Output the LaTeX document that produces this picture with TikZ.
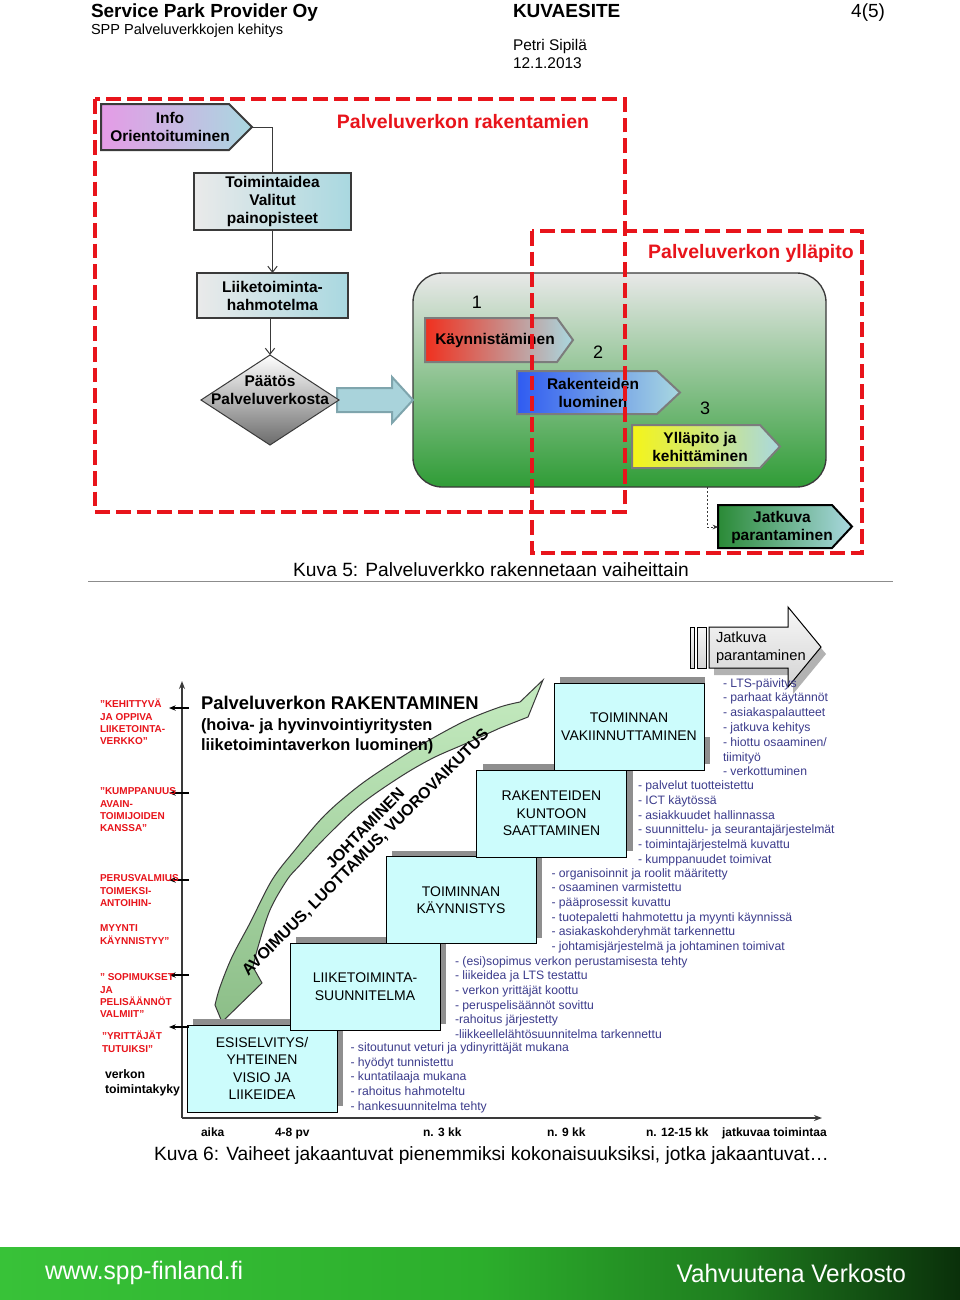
\documentclass[tikz,border=0pt]{standalone}
\usepackage{fontspec}
\usepackage{graphicx}
\setmainfont{Liberation Sans}
\usetikzlibrary{arrows.meta,shapes.geometric,shadows}
\definecolor{redd}{HTML}{E8141B}
\definecolor{lightcy}{HTML}{A9D8E0}
\definecolor{boxcy}{HTML}{CCFCFC}
\definecolor{shadowg}{HTML}{8F8F8F}
\definecolor{listblue}{HTML}{3C3C8C}
\definecolor{bordg}{HTML}{3A3A3A}
\definecolor{arrg}{HTML}{7C7C7C}
\definecolor{infoL}{HTML}{E59BE6}
\definecolor{boxL}{HTML}{EAEAEA}
\definecolor{stTop}{HTML}{E8E8E8}
\definecolor{stMid}{HTML}{BACDB5}
\definecolor{stBot}{HTML}{2F9C36}
\definecolor{kRed}{HTML}{F0301E}
\definecolor{kMid}{HTML}{E2B4B8}
\definecolor{rBlue}{HTML}{2F5BF2}
\definecolor{rMid}{HTML}{8FB0E8}
\definecolor{yYel}{HTML}{F5F518}
\definecolor{yMid}{HTML}{B8D0A0}
\definecolor{jGreen}{HTML}{2A8A36}
\definecolor{jMid}{HTML}{6AAE70}
\definecolor{blueArr}{HTML}{A9D3DB}
\definecolor{blueArrB}{HTML}{7FA5AD}
\definecolor{bandTop}{HTML}{C5EBC0}
\definecolor{bandBot}{HTML}{8CBE88}
\definecolor{fA}{HTML}{38C238}
\definecolor{fB}{HTML}{2CAE2C}
\definecolor{fC}{HTML}{1F7E1F}
\definecolor{fD}{HTML}{0A300A}
\pgfdeclarehorizontalshading{footershade}{100bp}{color(0bp)=(fA); color(25bp)=(fA); color(50bp)=(fB); color(63bp)=(fC); color(75bp)=(fD); color(100bp)=(fD)}
\newcommand\pxu{0.75pt}
\newcommand\txtstack[6]{\foreach \t [count=\i from 0] in {#6} {\node[#1] (#2\i) at (#3,#4+\i*#5) {\t};}}
\begin{document}
\begin{tikzpicture}[x=0.75pt,y=-0.75pt,
 every node/.style={inner sep=0pt, outer sep=0pt},
 hb/.style={font=\bfseries\fontsize{11.6pt}{13.5pt}\selectfont, align=center},
 ubox/.style={draw=bordg, line width=1.5pt, left color=boxL, right color=lightcy, hb},
 stagearrow/.style={draw=arrg, line width=1.5pt},
 reddash/.style={draw=redd, line width=3pt, dash pattern=on 11pt off 4.5pt},
 redtitle/.style={text=redd, font=\bfseries\fontsize{14.6pt}{17pt}\selectfont, anchor=base},
 num/.style={font=\fontsize{13.5pt}{16pt}\selectfont},
 flowarrow/.style={draw=bordg, line width=0.75pt, -{Straight Barb[length=4.5pt,width=7pt]}},
 lbox/.style={draw=black, line width=0.75pt, fill=boxcy, minimum width=150*\pxu, minimum height=87*\pxu, align=center, font=\fontsize{10.5pt}{13.1pt}\selectfont, drop shadow={shadow xshift=4.5pt, shadow yshift=4.5pt, fill=shadowg, opacity=1}},
 listtxt/.style={text=listblue, font=\fontsize{9.15pt}{11pt}\selectfont, anchor=base west},
 redlabel/.style={text=redd, font=\bfseries\fontsize{7.5pt}{9.3pt}\selectfont, anchor=base west},
 blacklabel/.style={font=\bfseries\fontsize{9.2pt}{11pt}\selectfont, anchor=base west},
 axislab/.style={font=\bfseries\fontsize{9pt}{11pt}\selectfont, anchor=base west},
 axisline/.style={draw=bordg, line width=1.1pt, -{Stealth[length=6pt,width=4.5pt]}},
 tickarrow/.style={draw=black, line width=0.9pt, -{Stealth[length=5pt,width=4pt]}},
 rottxt/.style={font=\bfseries\fontsize{12pt}{14pt}\selectfont},
]
\useasboundingbox (0,0) rectangle (960,1300);
\fill[white] (0,0) rectangle (960,1300);

% ---------- header ----------
\node[anchor=base west, font=\bfseries\fontsize{14.25pt}{16pt}\selectfont] (hd1) at (91,17) {Service Park Provider Oy};
\node[anchor=base west, font=\fontsize{10.9pt}{13pt}\selectfont] (hd2) at (91,34) {SPP Palveluverkkojen kehitys};
\node[anchor=base west, font=\bfseries\fontsize{14.25pt}{16pt}\selectfont] (hd3) at (513,17) {KUVAESITE};
\node[anchor=base east, font=\fontsize{14.25pt}{16pt}\selectfont] (hd4) at (885,17) {4(5)};
\node[anchor=base west, font=\fontsize{11.6pt}{14pt}\selectfont] (hd5) at (513,50.5) {Petri Sipilä};
\node[anchor=base west, font=\fontsize{11.6pt}{14pt}\selectfont] (hd6) at (513,68.5) {12.1.2013};

% ---------- upper diagram ----------
\node[draw=bordg, line width=1pt, rounded corners=22pt, top color=stTop, middle color=stMid, bottom color=stBot, minimum width=413*\pxu, minimum height=214*\pxu] (stage) at (619.5,380) {};

\filldraw[fill=blueArr, draw=blueArrB, line width=1.5pt] (337,388) -- (392,388) -- (392,377) -- (413,400) -- (392,423) -- (392,412) -- (337,412) -- cycle;

\shadedraw[stagearrow, left color=kRed, middle color=kMid, right color=lightcy] (425,318) -- (557,318) -- (573,340) -- (557,362) -- (425,362) -- cycle;
\node[hb] (kayn) at (495,340) {Käynnistäminen};
\shadedraw[stagearrow, left color=rBlue, middle color=rMid, right color=lightcy] (517,371) -- (657,371) -- (680,392.5) -- (657,414) -- (517,414) -- cycle;
\node[hb] (rak) at (593,392.5) {Rakenteiden\\luominen};
\shadedraw[stagearrow, left color=yYel, middle color=yMid, right color=lightcy] (632,425) -- (760,425) -- (780,446.5) -- (760,468) -- (632,468) -- cycle;
\node[hb] (yll) at (700,446.5) {Ylläpito ja\\kehittäminen};

\node[num] (n1) at (477,302) {1};
\node[num] (n2) at (598,352) {2};
\node[num] (n3) at (705,408) {3};

\shadedraw[draw=black, line width=1.5pt, left color=jGreen, middle color=jMid, right color=lightcy] (718,505) -- (832,505) -- (852,526.5) -- (832,548) -- (718,548) -- cycle;
\coordinate (jatW) at (718,527);
\node[hb] (jat) at (782,527.5) {Jatkuva\\parantaminen};
\draw[draw=bordg, line width=0.75pt, dash pattern=on 1.5pt off 1.5pt, -{Stealth[length=4pt,width=3.5pt]}] (stage.south) ++(87.5,0) |- (jatW);

\shadedraw[draw=bordg, line width=1.5pt, left color=infoL, right color=lightcy] (101,104) -- (229,104) -- (252,127) -- (229,150) -- (101,150) -- cycle;
\coordinate (infotip) at (252,127);
\node[hb] (info) at (170,127) {Info\\Orientoituminen};

\node[ubox, minimum width=157*\pxu, minimum height=57*\pxu] (toim) at (272.5,201.5) {Toimintaidea\\Valitut\\painopisteet};
\node[ubox, minimum width=151*\pxu, minimum height=45*\pxu] (liike) at (272.5,295.5) {Liiketoiminta-\\hahmotelma};
\node[diamond, draw=bordg, line width=0.75pt, top color=white, bottom color=black!58, minimum width=138*\pxu, minimum height=90*\pxu] (paatos) at (270,400) {};
\node[hb] (paatosT) at (270,390.5) {Päätös\\Palveluverkosta};

\draw[draw=bordg, line width=0.75pt] (infotip) -| (toim.north);
\draw[flowarrow] (toim.south) -- (liike.north);
\draw[flowarrow] (paatos.north |- liike.south) -- (paatos.north);

\draw[reddash] (95,99) rectangle (625,512);
\draw[reddash] (532,231) rectangle (862,553);
\node[redtitle] (rt1) at (463,128) {Palveluverkon rakentamien};
\node[redtitle] (rt2) at (751,258) {Palveluverkon ylläpito};

\node[anchor=base, font=\fontsize{14.4pt}{16pt}\selectfont] (cap5) at (491,576) {Kuva 5: Palveluverkko rakennetaan vaiheittain};
\coordinate (ruleL) at (88,581);
\coordinate (ruleR) at (893,581);
\draw[draw=black!45, line width=0.75pt] (ruleL) -- (ruleR);

% ---------- lower diagram ----------
\shadedraw[top color=bandTop, bottom color=bandBot, draw=bordg, line width=0.75pt]
  (222,1022) -- plot[smooth, tension=0.55] coordinates {(215,1005) (220,987) (232,957) (250,923) (272,880) (295,850) (325,815) (360,785) (400,758) (433,738) (467,720) (500,707) (520,702)}
  -- (543,680) -- (528,717)
  -- plot[smooth, tension=0.55] coordinates {(500,728) (467,743) (433,758) (400,777) (360,805) (325,838) (300,865) (287,880) (270,910) (258,947) (253,967)}
  -- (262,983) -- cycle;

\node[anchor=base west, font=\bfseries\fontsize{13.8pt}{16pt}\selectfont] (lt1) at (201,709.5) {Palveluverkon RAKENTAMINEN};
\node[anchor=base west, font=\bfseries\fontsize{12.3pt}{15pt}\selectfont] (lt2) at (201,730.4) {(hoiva- ja hyvinvointiyritysten};
\node[anchor=base west, font=\bfseries\fontsize{12.3pt}{15pt}\selectfont] (lt3) at (201,750.4) {liiketoimintaverkon luominen)};

\node[rottxt, rotate=46] (joht) at (365,828) {JOHTAMINEN};
\node[rottxt, rotate=45] (avo) at (366,853) {AVOIMUUS, LUOTTAMUS, VUOROVAIKUTUS};

\node[lbox] (b1) at (262,1068.5) {ESISELVITYS/\\YHTEINEN\\VISIO JA\\LIIKEIDEA};
\node[lbox] (b2) at (365,986.5) {LIIKETOIMINTA-\\SUUNNITELMA};
\node[lbox] (b3) at (461,900) {TOIMINNAN\\KÄYNNISTYS};
\node[lbox] (b4) at (551.5,813.5) {RAKENTEIDEN\\KUNTOON\\SAATTAMINEN};
\node[lbox] (b5) at (629,726.5) {TOIMINNAN\\VAKIINNUTTAMINEN};
\fill[white] (705,673) rectangle (713,737);

% lower Jatkuva arrow
\fill[black!30] (714,634) -- (793,634) -- (793,614) -- (826,654) -- (793,694) -- (793,675) -- (714,675) -- cycle;
\shadedraw[top color=black!3, bottom color=black!17, draw=black, line width=0.75pt] (690,627) rectangle (694,668);
\shadedraw[top color=black!3, bottom color=black!17, draw=black, line width=0.75pt] (697,627) rectangle (706,668);
\shadedraw[top color=black!3, bottom color=black!17, draw=black, line width=0.75pt] (709,627) -- (788,627) -- (788,607) -- (821,647) -- (788,687) -- (788,668) -- (709,668) -- cycle;
\node[anchor=west, align=left, font=\fontsize{11pt}{13.5pt}\selectfont] (jat2) at (716,648) {Jatkuva\\parantaminen};

% lists
\txtstack{listtxt}{le}{723}{687.1}{14.8}{- LTS-päivitys, - parhaat käytännöt, - asiakaspalautteet, - jatkuva kehitys, - hiottu osaaminen/, tiimityö, - verkottuminen}
\txtstack{listtxt}{ld}{638}{789.4}{14.85}{- palvelut tuotteistettu, - ICT käytössä, - asiakkuudet hallinnassa, - suunnittelu- ja seurantajärjestelmät, - toimintajärjestelmä kuvattu, - kumppanuudet toimivat}
\txtstack{listtxt}{lc}{551.5}{877.1}{14.65}{- organisoinnit ja roolit määritetty, - osaaminen varmistettu, - pääprosessit kuvattu, - tuotepaletti hahmotettu ja myynti käynnissä, - asiakaskohderyhmät tarkennettu, - johtamisjärjestelmä ja johtaminen toimivat}
\txtstack{listtxt}{lb}{455}{965.1}{14.7}{- (esi)sopimus verkon perustamisesta tehty, - liikeidea ja LTS  testattu, - verkon yrittäjät  koottu, - peruspelisäännöt sovittu, -rahoitus järjestetty, -liikkeellelähtösuunnitelma tarkennettu}
\txtstack{listtxt}{la}{350.5}{1051.7}{14.6}{- sitoutunut veturi ja ydinyrittäjät mukana, - hyödyt tunnistettu, - kuntatilaaja mukana, - rahoitus hahmoteltu, - hankesuunnitelma tehty}

% axes
\coordinate (O) at (182,1118);
\coordinate (Ytop) at (182,681);
\coordinate (Xend) at (822,1118);
\draw[axisline] (O) -- (Ytop);
\draw[axisline] (O) -- (Xend);
\foreach \yy [count=\i] in {708,793,880,975,1027} {
  \coordinate (tk\i) at (189,\yy);
  \coordinate (tl\i) at (169,\yy);
  \draw[tickarrow] (tk\i) -- (tl\i);
}

% red labels
\txtstack{redlabel}{ra}{100}{707.6}{12.4}{”KEHITTYVÄ, JA OPPIVA, LIIKETOINTA-, VERKKO”}
\txtstack{redlabel}{rb}{100}{794.6}{12.4}{”KUMPPANUUS, AVAIN-, TOIMIJOIDEN, KANSSA”}
\txtstack{redlabel}{rc}{100}{881.6}{12.4}{PERUSVALMIUS, TOIMEKSI-, ANTOIHIN-}
\txtstack{redlabel}{rd}{100}{931.6}{12.4}{MYYNTI, KÄYNNISTYY”}
\txtstack{redlabel}{re}{100}{980.6}{12.4}{” SOPIMUKSET, JA, PELISÄÄNNÖT, VALMIIT”}
\txtstack{redlabel}{rf}{102}{1039.6}{13}{”YRITTÄJÄT, TUTUIKSI”}
\txtstack{blacklabel}{rg}{105}{1078.4}{15}{verkon, toimintakyky}

% time labels
\node[axislab] (t0) at (201,1136) {aika};
\node[axislab] (t1) at (275,1136) {4-8 pv};
\node[axislab] (t2) at (423,1136) {n. 3 kk};
\node[axislab] (t3) at (547,1136) {n. 9 kk};
\node[axislab] (t4) at (646,1136) {n. 12-15 kk};
\node[axislab] (t5) at (722,1136) {jatkuvaa toimintaa};

\node[anchor=base, font=\fontsize{14.4pt}{16pt}\selectfont] (cap6) at (491.5,1160) {Kuva 6: Vaiheet jakaantuvat pienemmiksi kokonaisuuksiksi, jotka jakaantuvat…};

% ---------- footer ----------
\shade[shading=footershade] (0,1247) rectangle (960,1300);
\node[anchor=west, text=white, font=\fontsize{19pt}{22pt}\selectfont] (www) at (45,1273) {\scalebox{0.97}[1]{www.spp-finland.fi}};
\node[anchor=east, text=white, font=\fontsize{19pt}{22pt}\selectfont] (vv) at (906,1273) {\scalebox{0.96}[1]{Vahvuutena Verkosto}};
\end{tikzpicture}
\end{document}
